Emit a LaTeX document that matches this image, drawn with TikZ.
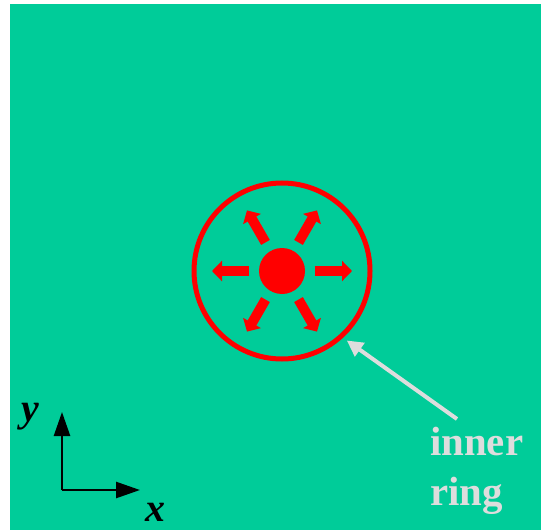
\documentclass[tikz,border=0pt]{standalone}
\usepackage{fontspec}
\setmainfont{Liberation Serif}
\usetikzlibrary{arrows.meta}
\definecolor{sea}{RGB}{0,204,153}
\definecolor{hot}{RGB}{255,0,0}
\definecolor{pale}{RGB}{221,221,221}

\begin{document}
\begin{tikzpicture}[
  x=1bp, y=-1bp,
  burst/.style={draw=hot, line width=10bp, -{Triangle[length=10bp, width=20bp]}},
  axis/.style={draw=black, line width=2.5bp, -{Triangle[length=24bp, width=16bp]}},
  axlabel/.style={font=\fontsize{40}{48}\selectfont\bfseries\itshape, inner sep=0pt},
  pointer/.style={draw=pale, line width=4bp, -{Triangle[length=16bp, width=16bp]}}
]
\useasboundingbox (0,0) rectangle (541,530);
\fill[white] (0,0) rectangle (541,530);
\fill[sea] (10,4) rectangle (541,530);

% Source dot and the ring round it.
\node[circle, fill=hot, minimum size=46bp, inner sep=0pt] (src) at (282,271) {};
\node[circle, draw=hot, line width=5bp, minimum size=176bp, inner sep=0pt]
  (ring) at (282,271) {};

% Six outward arrows.
\foreach \a in {0,60,...,300}
  \draw[burst] ([shift={(\a:33bp)}]src.center) -- ([shift={(\a:70bp)}]src.center);

% Axes.
\coordinate (origin) at (62,490);
\coordinate (yend) at (62,412);
\coordinate (xend) at (140,490);
\draw[axis] (origin) -- (yend);
\draw[axis] (origin) -- (xend);
\node[axlabel] (ylab) at (30,417) {y};
\node[axlabel] (xlab) at (155,512) {x};

% Label pointing at the ring.
\node[font=\fontsize{41}{50}\selectfont\bfseries, text=pale, align=left,
  anchor=base west, inner sep=0pt] (note) at (430,505) {inner\\ring};
\coordinate (tail) at (457,419);
\draw[pointer] (tail) -- ([shift={(-47:95bp)}]ring.center);

\end{tikzpicture}
\end{document}
